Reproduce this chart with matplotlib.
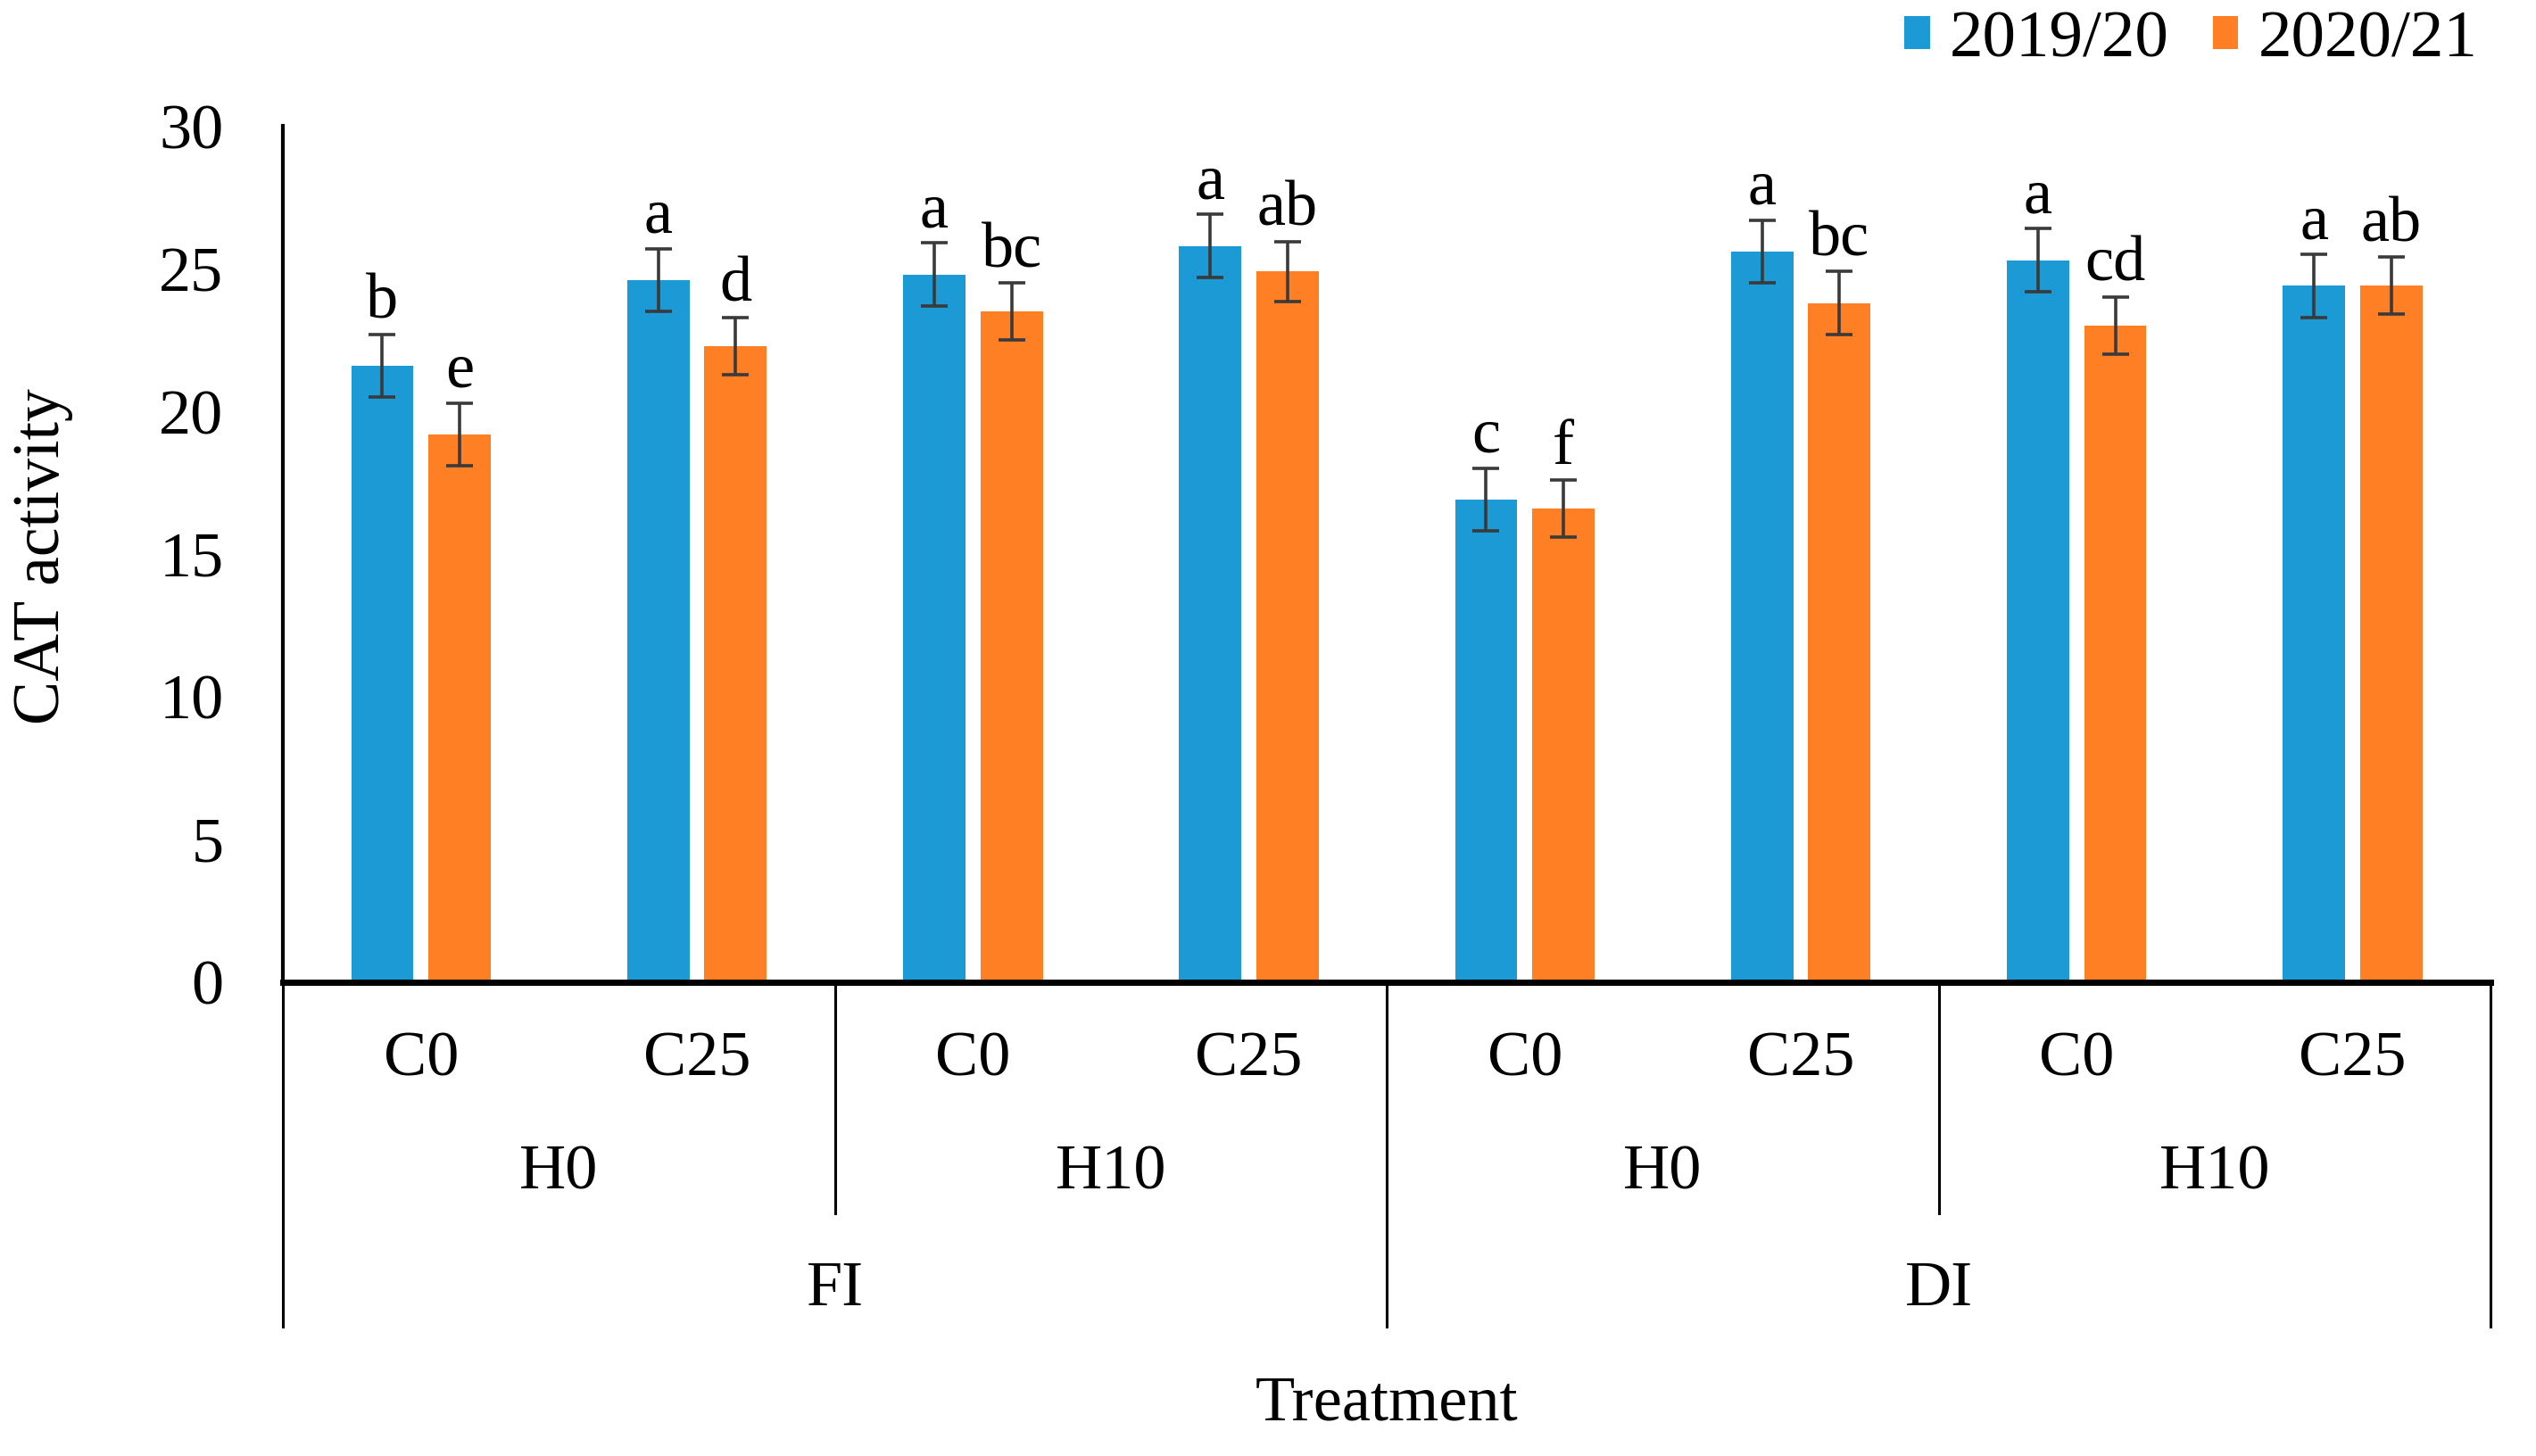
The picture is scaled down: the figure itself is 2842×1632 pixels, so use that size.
import matplotlib.pyplot as plt
import numpy as np

plt.rcParams['font.family'] = ['Liberation Serif', 'DejaVu Serif']

# data
conc = ['C0', 'C25', 'C0', 'C25', 'C0', 'C25', 'C0', 'C25']
humic = ['H0', 'H10', 'H0', 'H10']
irrigation = ['FI', 'DI']
seasons = ['2019/20', '2020/21']

cat_1920 = [21.6, 24.6, 24.8, 25.8, 16.9, 25.6, 25.3, 24.4]
cat_2021 = [19.2, 22.3, 23.5, 24.9, 16.6, 23.8, 23.0, 24.4]
err_1920 = [1.1, 1.1, 1.1, 1.1, 1.1, 1.1, 1.1, 1.1]
err_2021 = [1.1, 1.0, 1.0, 1.05, 1.0, 1.1, 1.0, 1.0]
letters_1920 = ['b', 'a', 'a', 'a', 'c', 'a', 'a', 'a']
letters_2021 = ['e', 'd', 'bc', 'ab', 'f', 'bc', 'cd', 'ab']

blue = '#1B9AD6'
orange = '#FE7F24'
fs = 52

fig = plt.figure(figsize=(28.42, 16.32), dpi=100)
ax = fig.add_axes([0.1116, 0.3256, 0.8705, 0.5878])

x = np.arange(len(conc))
w = 0.226
off = 0.14
ekw = dict(ecolor='#3a3a3a', elinewidth=2.6, capsize=10.5, capthick=2.6)
ax.bar(x - off, cat_1920, w, yerr=err_1920, color=blue, label=seasons[0],
       error_kw=ekw, zorder=2)
ax.bar(x + off, cat_2021, w, yerr=err_2021, color=orange, label=seasons[1],
       error_kw=ekw, zorder=2)

# significance letters
for i in range(len(conc)):
    ax.text(x[i] - off, cat_1920[i] + err_1920[i] + 0.1, letters_1920[i],
            ha='center', va='bottom', fontsize=fs)
    ax.text(x[i] + off, cat_2021[i] + err_2021[i] + 0.1, letters_2021[i],
            ha='center', va='bottom', fontsize=fs)

ax.set_xlim(-0.5, 7.5)
ax.set_ylim(0, 30)
ax.set_yticks(np.arange(0, 31, 5))
ax.tick_params(axis='y', length=0, pad=48, labelsize=fs)
ax.set_xticks([])
for s in ['top', 'right']:
    ax.spines[s].set_visible(False)
ax.spines['left'].set_linewidth(3)
ax.spines['bottom'].set_linewidth(5)
fig.text(0.0170, 0.6176, 'CAT activity', rotation=90, ha='center', va='center',
         fontsize=fs + 1)

# multi-level category axis
tr = ax.get_xaxis_transform()
for i, c in enumerate(conc):
    ax.text(x[i], -0.091, c, transform=tr, ha='center', va='center', fontsize=fs)
for j, h in enumerate(humic):
    ax.text(2 * j + 0.5, -0.223, h, transform=tr, ha='center', va='center', fontsize=fs)
for k, ir in enumerate(irrigation):
    ax.text(4 * k + 1.5, -0.359, ir, transform=tr, ha='center', va='center', fontsize=fs)
ax.text(3.5, -0.493, 'Treatment', transform=tr, ha='center', va='center', fontsize=fs)

for xv in [-0.5, 3.5, 7.5]:
    ax.plot([xv, xv], [0, -0.403], transform=tr, color='black', lw=2.2, clip_on=False)
for xv in [1.5, 5.5]:
    ax.plot([xv, xv], [0, -0.27], transform=tr, color='black', lw=2.2, clip_on=False)

fig.legend(loc='center right', bbox_to_anchor=(0.977, 0.972), ncol=2, frameon=False,
           fontsize=fs + 2, handlelength=0.38, handleheight=0.38, handletextpad=0.3,
           columnspacing=0.65, borderpad=0, borderaxespad=0)

fig.savefig('out.png', dpi=100)
